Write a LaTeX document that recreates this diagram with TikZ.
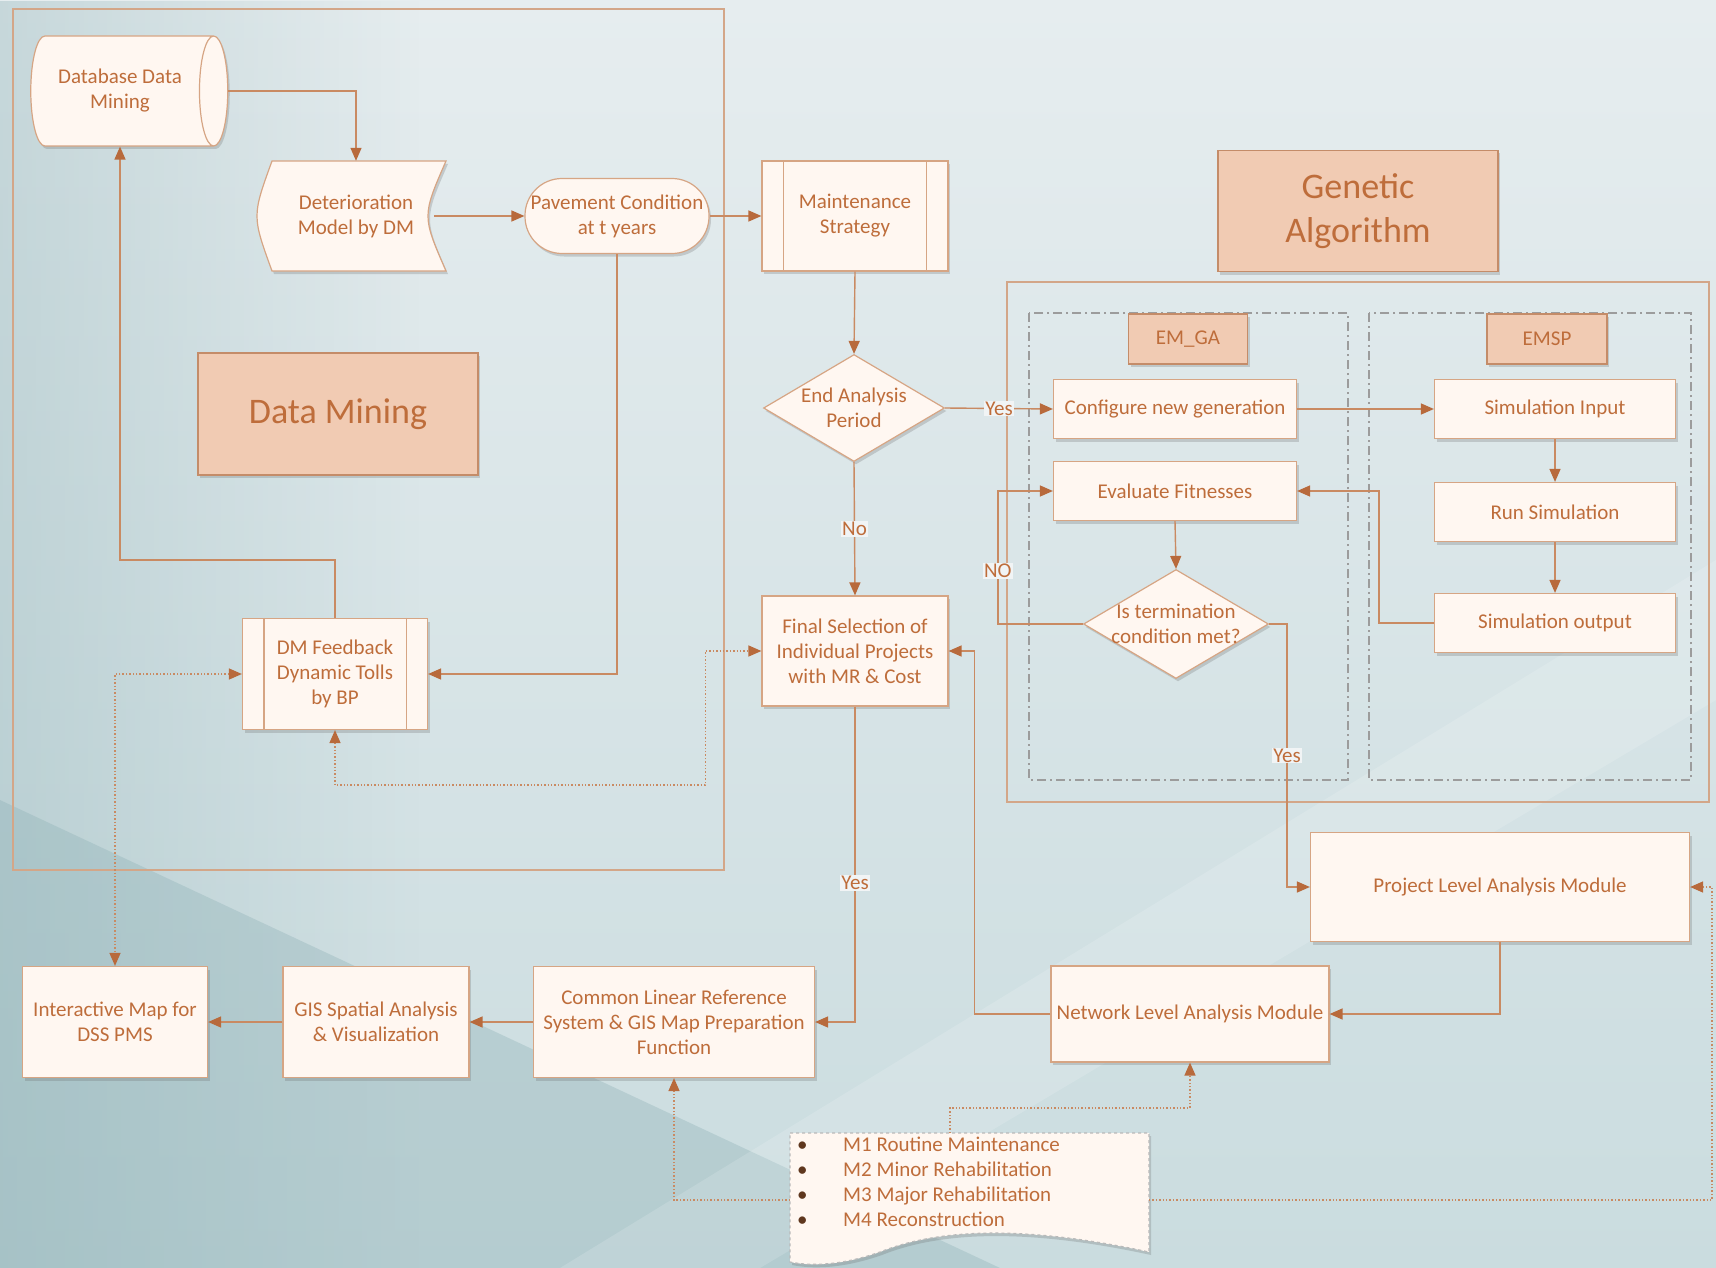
\documentclass[tikz,border=0pt]{standalone}
\usepackage{fontspec}
\setmainfont{Carlito}
\usetikzlibrary{arrows.meta,shapes.geometric,shadows,fadings}

\definecolor{linecol}{HTML}{C98A62}
\definecolor{tipcol}{HTML}{B86A3C}
\definecolor{txtcol}{HTML}{BE6D3B}
\definecolor{boxfill}{HTML}{FFF7F1}
\definecolor{boxline}{HTML}{D6A584}
\definecolor{tagfill}{HTML}{F1CBB3}
\definecolor{tagline}{HTML}{C48C69}
\definecolor{framecol}{HTML}{D3A688}
\definecolor{gaframe}{HTML}{9C9C9C}
\definecolor{bgtop}{HTML}{E6EDEF}
\definecolor{bgmid}{HTML}{F1F4F5}
\definecolor{bgbot}{HTML}{CADCDF}
\definecolor{bgdark}{HTML}{8DB0B5}

\tikzfading[name=fadeleft, left color=transparent!65, right color=transparent!100]

\tikzset{
  txt/.style={font=\fontsize{21}{25}\selectfont, text=txtcol, align=center},
  box/.style={txt, draw=boxline, fill=boxfill, line width=1.2pt, inner sep=2pt,
    drop shadow={shadow xshift=2pt, shadow yshift=-3pt, opacity=0.25, fill=black!60}},
  procbox/.style={box, append after command={
    ([xshift=22pt]\tikzlastnode.north west) edge[draw=boxline, line width=1.2pt] ([xshift=22pt]\tikzlastnode.south west)
    ([xshift=-22pt]\tikzlastnode.north east) edge[draw=boxline, line width=1.2pt] ([xshift=-22pt]\tikzlastnode.south east)}},
  decision/.style={box, diamond, inner sep=0pt},
  tagbox/.style={txt, draw=tagline, fill=tagfill, line width=1.2pt,
    drop shadow={shadow xshift=2pt, shadow yshift=-3pt, opacity=0.25, fill=black!60}},
  bigtag/.style={tagbox, font=\fontsize{36}{44}\selectfont},
  outline/.style={draw=boxline, fill=boxfill, line width=1.2pt,
    drop shadow={shadow xshift=2pt, shadow yshift=-3pt, opacity=0.25, fill=black!60}},
  flow/.style={draw=linecol, line width=1.4pt, -{Triangle[length=13pt,width=11pt,color=tipcol]}},
  dotflow/.style={flow, dotted},
  twoway/.style={dotflow, {Triangle[length=13pt,width=11pt,color=tipcol]}-{Triangle[length=13pt,width=11pt,color=tipcol]}},
  lbl/.style={txt, fill=bgmid, inner sep=1pt},
  frame/.style={draw=framecol, line width=1.5pt},
  subframe/.style={draw=gaframe, line width=1.2pt, dash pattern=on 9pt off 4pt on 2pt off 4pt}
}

\begin{document}
\begin{tikzpicture}[x=1pt,y=-1pt]
\useasboundingbox (0,0) rectangle (1716,1268);
% background
\shade[top color=bgtop, middle color=bgmid, bottom color=bgbot] (0,0) rectangle (1716,1268);
\fill[bgdark, path fading=fadeleft] (0,0) rectangle (420,1268);
\fill[bgdark, opacity=0.35] (0,800) -- (1000,1268) -- (0,1268) -- cycle;
\fill[white, opacity=0.15] (560,1268) -- (1716,560) -- (1716,700) -- (760,1268) -- cycle;

% frames
\draw[frame] (13,9) rectangle (724,870);
\draw[frame] (1007,282) rectangle (1709,802);
\draw[subframe] (1029,313) rectangle (1348,780);
\draw[subframe] (1369,313) rectangle (1691,780);

% data mining part
\node[box, cylinder, shape aspect=0.6, minimum height=197pt, minimum width=110pt] (db) at (120,91) {Database Data\\Mining};
\path[outline] (272,161) .. controls (252,216) .. (272,271) -- (446,271) .. controls (422,216) .. (446,161) -- cycle;
\node[txt, minimum width=174pt, minimum height=110pt] (dtm) at (356,216) {Deterioration\\Model by DM};
\node[box, rounded corners=37pt, minimum width=184pt, minimum height=75pt] (pav) at (617,216) {Pavement Condition\\at t years};
\node[bigtag, minimum width=280pt, minimum height=122pt] (dml) at (338,414) {Data Mining};
\node[procbox, minimum width=185pt, minimum height=111pt] (fb) at (335,674) {DM Feedback\\Dynamic Tolls\\by BP};

% maintenance decision
\node[procbox, minimum width=186pt, minimum height=110pt] (mnt) at (855,216) {Maintenance\\Strategy};
\node[decision, minimum width=181pt, minimum height=107pt, label={[txt]center:{End Analysis\\Period}}] (endp) at (854,408) {};
\node[box, minimum width=186pt, minimum height=110pt] (fsel) at (855,651) {Final Selection of\\Individual Projects\\with MR \& Cost};

% genetic algorithm
\node[bigtag, minimum width=280pt, minimum height=121pt] (ga) at (1358,211) {Genetic\\Algorithm};
\node[tagbox, minimum width=119pt, minimum height=50pt] (emga) at (1188,339) {EM\_GA};
\node[tagbox, minimum width=120pt, minimum height=50pt] (emsp) at (1547,339) {EMSP};
\node[box, minimum width=243pt, minimum height=59pt] (cfg) at (1175,409) {Configure new generation};
\node[box, minimum width=243pt, minimum height=59pt] (eval) at (1175,491) {Evaluate Fitnesses};
\node[decision, minimum width=185pt, minimum height=109pt, label={[txt]center:{Is termination\\condition met?}}] (term) at (1176,624) {};
\node[box, minimum width=241pt, minimum height=59pt] (simin) at (1555,409) {Simulation Input};
\node[box, minimum width=241pt, minimum height=59pt] (runsim) at (1555,512) {Run Simulation};
\node[box, minimum width=241pt, minimum height=59pt] (simout) at (1555,623) {Simulation output};

% analysis modules and GIS
\node[box, minimum width=379pt, minimum height=109pt] (prj) at (1500,887) {Project Level Analysis Module};
\node[box, minimum width=278pt, minimum height=96pt] (net) at (1190,1014) {Network Level Analysis Module};
\node[box, minimum width=281pt, minimum height=111pt] (clrs) at (674,1022) {Common Linear Reference\\System \& GIS Map Preparation\\Function};
\node[box, minimum width=186pt, minimum height=111pt] (gis) at (376,1022) {GIS Spatial Analysis\\\& Visualization};
\node[box, minimum width=185pt, minimum height=111pt] (imap) at (115,1022) {Interactive Map for\\DSS PMS};

% maintenance types
\path[outline, draw=gray!55, dashed] (790,1133) -- (1149,1133) -- (1149,1252) .. controls (1010,1222) and (930,1232) .. (880,1252) .. controls (840,1266) and (810,1266) .. (790,1262) -- cycle;
\node[txt, anchor=west, inner sep=0pt] (mtyp) at (797,1184) {\begin{tabular}{@{}p{46pt}@{}l@{}}
\textcolor{txtcol!50!black}{\textbullet} & M1 Routine Maintenance\\
\textcolor{txtcol!50!black}{\textbullet} & M2 Minor Rehabilitation\\
\textcolor{txtcol!50!black}{\textbullet} & M3 Major Rehabilitation\\
\textcolor{txtcol!50!black}{\textbullet} & M4 Reconstruction
\end{tabular}};
\coordinate (mtop) at (950,1133);
\coordinate (mleft) at (790,1200);
\coordinate (mright) at (1149,1200);
\coordinate (redge) at (1712,1200);

% connectors
\draw[flow] (db.east) -| (dtm.north);
\draw[flow] ([xshift=-9pt]dtm.east) -- (pav.west);
\draw[flow] (pav.east) -- (mnt.west);
\draw[flow] (pav.south) |- (fb.east);
\draw[flow] (fb.north) -- ++(0,-58) -| (db.south);
\draw[flow] (mnt.south) -- (endp.north);
\draw[flow] (endp.east) -- node[lbl]{Yes} (cfg.west);
\draw[flow] (endp.south) -- node[lbl]{No} (fsel.north);
\draw[flow] (cfg.east) -- (simin.west);
\draw[flow] (simin.south) -- (runsim.north);
\draw[flow] (runsim.south) -- (simout.north);
\draw[flow] (eval.south) -- (term.north);
\draw[flow] (term.west) -| node[lbl, pos=0.7]{NO} ([xshift=-55pt]eval.west) -- (eval.west);
\draw[flow] (simout.west) -| ([xshift=82pt]eval.east) -- (eval.east);
\draw[flow] (term.east) -- ++(18,0) |- node[lbl, pos=0.25]{Yes} (prj.west);
\draw[flow] (prj.south) |- (net.east);
\draw[flow] (net.west) -| ([xshift=26pt]fsel.east) -- (fsel.east);
\draw[flow] (fsel.south) |- node[lbl, pos=0.28]{Yes} (clrs.east);
\draw[flow] (clrs.west) -- (gis.east);
\draw[flow] (gis.west) -- (imap.east);
\draw[twoway] (fb.west) -| (imap.north);
\draw[twoway] (fb.south) -- ++(0,55) -| ([xshift=-56pt]fsel.west) -- (fsel.west);
\draw[dotflow] (mtop) -- ++(0,-25) -| (net.south);
\draw[dotflow] (mleft) -| (clrs.south);
\draw[dotflow] (mright) -- (redge) |- (prj.east);
\end{tikzpicture}
\end{document}
